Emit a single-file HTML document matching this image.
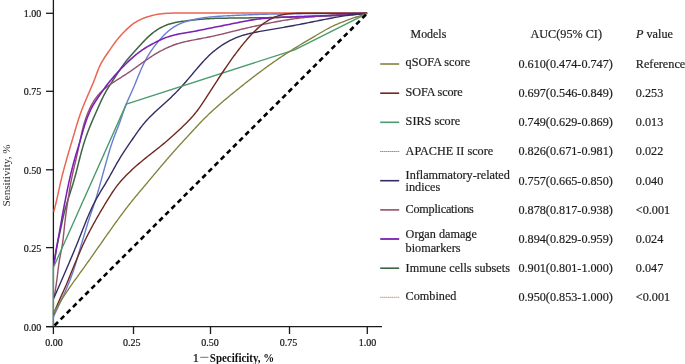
<!DOCTYPE html>
<html><head><meta charset="utf-8"><style>
html,body{margin:0;padding:0;background:#fff;}
body{width:685px;height:364px;overflow:hidden;font-family:"Liberation Serif", serif;}
svg{display:block;}
text{font-variant-ligatures:none;font-feature-settings:"liga" 0;}
.lg text{stroke:#1e1e1e;stroke-width:0.2px;}
.tk{stroke:#111;stroke-width:0.18px;}
svg{will-change:transform;}
</style></head><body>
<svg width="685" height="364" viewBox="0 0 685 364">
<defs><filter id="sb" x="-5%" y="-20%" width="110%" height="140%"><feGaussianBlur stdDeviation="0.35"/></filter></defs>
<rect width="685" height="364" fill="#fff"/>
<line x1="53.4" y1="0" x2="53.4" y2="327.2" stroke="#1a1a1a" stroke-width="1.3"/>
<line x1="46" y1="326.6" x2="382" y2="326.6" stroke="#1a1a1a" stroke-width="1.3"/>
<path d="M53.80,211.70 L54.17,210.25 L54.54,208.79 L54.90,207.34 L55.26,205.88 L55.62,204.42 L55.98,202.97 L56.33,201.51 L56.67,200.05 L57.01,198.59 L57.35,197.13 L57.67,195.66 L58.00,194.20 L58.32,192.73 L58.64,191.27 L58.96,189.80 L59.27,188.33 L59.59,186.87 L59.91,185.40 L60.24,183.94 L60.57,182.48 L60.91,181.02 L61.25,179.56 L61.60,178.10 L61.96,176.64 L62.32,175.19 L62.70,173.73 L63.08,172.28 L63.46,170.83 L63.85,169.38 L64.24,167.94 L64.64,166.49 L65.04,165.04 L65.44,163.60 L65.84,162.15 L66.25,160.71 L66.66,159.27 L67.07,157.82 L67.48,156.38 L67.89,154.94 L68.31,153.50 L68.73,152.06 L69.15,150.62 L69.57,149.18 L69.99,147.74 L70.42,146.30 L70.85,144.86 L71.28,143.43 L71.70,141.99 L72.13,140.55 L72.56,139.11 L72.99,137.67 L73.41,136.24 L73.83,134.80 L74.26,133.36 L74.68,131.92 L75.10,130.48 L75.52,129.04 L75.95,127.60 L76.38,126.16 L76.81,124.73 L77.25,123.29 L77.69,121.86 L78.14,120.43 L78.60,119.00 L79.07,117.58 L79.54,116.15 L80.03,114.73 L80.53,113.32 L81.04,111.91 L81.56,110.50 L82.09,109.10 L82.64,107.71 L83.20,106.31 L83.77,104.93 L84.34,103.54 L84.92,102.16 L85.50,100.78 L86.09,99.39 L86.68,98.01 L87.27,96.63 L87.85,95.26 L88.45,93.88 L89.04,92.50 L89.63,91.12 L90.23,89.75 L90.83,88.37 L91.43,87.00 L92.02,85.62 L92.61,84.24 L93.19,82.86 L93.76,81.47 L94.31,80.07 L94.85,78.67 L95.38,77.27 L95.89,75.86 L96.40,74.45 L96.91,73.04 L97.42,71.63 L97.96,70.23 L98.52,68.84 L99.10,67.46 L99.73,66.10 L100.38,64.76 L101.07,63.43 L101.80,62.12 L102.55,60.82 L103.33,59.54 L104.12,58.27 L104.94,57.01 L105.77,55.76 L106.61,54.52 L107.45,53.28 L108.30,52.04 L109.15,50.81 L110.00,49.57 L110.85,48.34 L111.71,47.11 L112.57,45.88 L113.44,44.66 L114.32,43.45 L115.22,42.24 L116.12,41.05 L117.04,39.86 L117.98,38.69 L118.94,37.54 L119.91,36.40 L120.90,35.27 L121.91,34.17 L122.94,33.08 L123.99,32.00 L125.04,30.94 L126.12,29.89 L127.20,28.85 L128.29,27.83 L129.41,26.83 L130.54,25.84 L131.69,24.89 L132.87,23.98 L134.09,23.12 L135.34,22.30 L136.62,21.53 L137.93,20.81 L139.27,20.13 L140.62,19.49 L141.99,18.89 L143.38,18.32 L144.77,17.79 L146.19,17.29 L147.61,16.81 L149.04,16.37 L150.48,15.95 L151.92,15.56 L153.38,15.20 L154.84,14.87 L156.31,14.58 L157.78,14.33 L159.27,14.11 L160.75,13.91 L162.24,13.75 L163.73,13.60 L165.23,13.48 L166.72,13.37 L168.22,13.28 L169.72,13.21 L171.22,13.15 L172.72,13.10 L174.21,13.07 L175.71,13.04 L177.21,13.01 L178.71,12.99 L180.21,12.97 L181.71,12.95 L183.21,12.94 L184.71,12.93 L186.21,12.92 L187.71,12.91 L189.21,12.91 L190.71,12.90 L192.21,12.90 L193.71,12.90 L195.21,12.90 L196.71,12.90 L198.21,12.90 L199.71,12.90 L201.21,12.90 L202.71,12.90 L204.21,12.90 L205.71,12.90 L207.21,12.90 L208.71,12.90 L210.21,12.90 L211.71,12.90 L213.21,12.90 L214.71,12.90 L216.21,12.90 L217.71,12.90 L219.21,12.90 L220.71,12.90 L222.21,12.90 L223.71,12.90 L225.21,12.90 L226.71,12.90 L228.21,12.90 L229.71,12.90 L231.21,12.90 L232.71,12.90 L234.21,12.90 L235.71,12.90 L237.21,12.90 L238.71,12.90 L240.21,12.90 L241.71,12.90 L243.21,12.90 L244.71,12.90 L246.21,12.90 L247.71,12.90 L249.21,12.90 L250.71,12.90 L252.21,12.90 L253.71,12.90 L255.21,12.90 L256.71,12.90 L258.21,12.90 L259.71,12.90 L261.21,12.90 L262.71,12.90 L264.21,12.90 L265.71,12.90 L267.21,12.90 L268.71,12.90 L270.21,12.90 L271.71,12.90 L273.21,12.90 L274.71,12.90 L276.21,12.90 L277.71,12.90 L279.21,12.90 L280.71,12.90 L282.21,12.90 L283.71,12.90 L285.21,12.90 L286.71,12.90 L288.21,12.90 L289.71,12.90 L291.21,12.90 L292.71,12.90 L294.21,12.90 L295.71,12.90 L297.21,12.90 L298.71,12.90 L300.21,12.90 L301.71,12.90 L303.21,12.90 L304.71,12.90 L306.21,12.90 L307.71,12.90 L309.21,12.90 L310.71,12.90 L312.21,12.90 L313.71,12.90 L315.21,12.90 L316.71,12.90 L318.21,12.90 L319.71,12.90 L321.21,12.90 L322.71,12.90 L324.21,12.90 L325.71,12.90 L327.21,12.90 L328.71,12.90 L330.21,12.90 L331.71,12.90 L333.21,12.90 L334.71,12.90 L336.21,12.90 L337.71,12.90 L339.21,12.90 L340.71,12.90 L342.21,12.90 L343.71,12.90 L345.21,12.90 L346.71,12.90 L348.21,12.90 L349.71,12.90 L351.21,12.90 L352.71,12.90 L354.21,12.90 L355.71,12.90 L357.21,12.90 L358.71,12.90 L360.21,12.90 L361.71,12.90 L363.21,12.90 L364.71,12.90 L366.21,12.90 L367.21,12.90" fill="none" stroke="#ea6653" stroke-width="1.5" stroke-linejoin="round"/>
<path d="M53.60,266.00 L53.85,264.52 L54.11,263.04 L54.36,261.57 L54.62,260.09 L54.87,258.61 L55.12,257.13 L55.37,255.65 L55.62,254.17 L55.87,252.69 L56.13,251.21 L56.38,249.74 L56.64,248.26 L56.91,246.79 L57.18,245.31 L57.47,243.84 L57.76,242.37 L58.05,240.90 L58.36,239.43 L58.67,237.96 L58.99,236.50 L59.31,235.03 L59.63,233.57 L59.96,232.10 L60.28,230.64 L60.61,229.18 L60.93,227.71 L61.24,226.25 L61.56,224.78 L61.87,223.31 L62.18,221.85 L62.49,220.38 L62.81,218.91 L63.13,217.45 L63.46,215.99 L63.81,214.53 L64.16,213.07 L64.52,211.62 L64.90,210.17 L65.29,208.72 L65.69,207.28 L66.10,205.84 L66.52,204.40 L66.95,202.96 L67.38,201.52 L67.82,200.09 L68.26,198.66 L68.71,197.23 L69.17,195.80 L69.62,194.37 L70.08,192.94 L70.54,191.51 L70.99,190.08 L71.45,188.65 L71.90,187.22 L72.35,185.79 L72.80,184.36 L73.23,182.93 L73.66,181.49 L74.08,180.05 L74.50,178.61 L74.90,177.17 L75.30,175.72 L75.69,174.27 L76.07,172.82 L76.44,171.37 L76.81,169.92 L77.18,168.46 L77.54,167.01 L77.90,165.55 L78.26,164.09 L78.63,162.64 L78.99,161.18 L79.36,159.73 L79.73,158.28 L80.11,156.82 L80.49,155.37 L80.87,153.92 L81.26,152.48 L81.65,151.03 L82.06,149.58 L82.47,148.14 L82.88,146.70 L83.31,145.26 L83.74,143.83 L84.19,142.40 L84.64,140.97 L85.11,139.55 L85.59,138.13 L86.08,136.71 L86.58,135.30 L87.10,133.89 L87.62,132.48 L88.15,131.08 L88.70,129.68 L89.25,128.29 L89.80,126.90 L90.37,125.51 L90.94,124.12 L91.51,122.74 L92.10,121.36 L92.69,119.98 L93.28,118.60 L93.88,117.22 L94.48,115.85 L95.08,114.48 L95.69,113.10 L96.30,111.73 L96.91,110.36 L97.52,108.99 L98.13,107.62 L98.73,106.25 L99.34,104.88 L99.96,103.52 L100.58,102.15 L101.20,100.79 L101.84,99.44 L102.49,98.09 L103.15,96.75 L103.83,95.42 L104.53,94.10 L105.25,92.79 L105.99,91.48 L106.74,90.19 L107.51,88.90 L108.29,87.62 L109.08,86.35 L109.87,85.08 L110.67,83.81 L111.48,82.55 L112.29,81.29 L113.11,80.03 L113.93,78.77 L114.75,77.52 L115.57,76.26 L116.40,75.01 L117.22,73.76 L118.05,72.51 L118.88,71.26 L119.72,70.02 L120.56,68.78 L121.41,67.54 L122.26,66.31 L123.13,65.09 L124.01,63.88 L124.91,62.68 L125.82,61.50 L126.75,60.33 L127.70,59.17 L128.66,58.02 L129.63,56.89 L130.62,55.76 L131.61,54.64 L132.62,53.52 L133.62,52.41 L134.63,51.30 L135.64,50.20 L136.65,49.09 L137.66,47.98 L138.67,46.87 L139.68,45.76 L140.69,44.65 L141.70,43.55 L142.72,42.45 L143.75,41.36 L144.78,40.28 L145.83,39.21 L146.89,38.15 L147.97,37.12 L149.06,36.10 L150.18,35.11 L151.31,34.14 L152.46,33.19 L153.64,32.28 L154.84,31.39 L156.06,30.54 L157.30,29.72 L158.56,28.94 L159.85,28.19 L161.15,27.49 L162.48,26.82 L163.83,26.19 L165.19,25.60 L166.57,25.05 L167.97,24.55 L169.38,24.08 L170.80,23.66 L172.24,23.27 L173.69,22.92 L175.14,22.60 L176.61,22.31 L178.08,22.04 L179.55,21.79 L181.03,21.57 L182.52,21.35 L184.00,21.15 L185.49,20.96 L186.97,20.77 L188.46,20.58 L189.95,20.41 L191.44,20.23 L192.93,20.06 L194.42,19.89 L195.91,19.73 L197.40,19.58 L198.90,19.43 L200.39,19.29 L201.88,19.15 L203.38,19.03 L204.87,18.92 L206.37,18.81 L207.86,18.71 L209.36,18.63 L210.86,18.55 L212.36,18.48 L213.85,18.42 L215.35,18.37 L216.85,18.32 L218.35,18.28 L219.85,18.25 L221.35,18.22 L222.85,18.19 L224.35,18.17 L225.85,18.15 L227.35,18.13 L228.85,18.11 L230.35,18.09 L231.85,18.08 L233.35,18.06 L234.85,18.05 L236.35,18.03 L237.85,18.01 L239.35,18.00 L240.85,17.98 L242.35,17.96 L243.85,17.95 L245.35,17.93 L246.85,17.91 L248.35,17.89 L249.85,17.87 L251.35,17.86 L252.85,17.84 L254.35,17.82 L255.85,17.80 L257.35,17.78 L258.85,17.76 L260.35,17.74 L261.85,17.72 L263.35,17.70 L264.85,17.67 L266.35,17.65 L267.85,17.63 L269.35,17.60 L270.85,17.57 L272.34,17.55 L273.84,17.52 L275.34,17.49 L276.84,17.46 L278.34,17.43 L279.84,17.40 L281.34,17.37 L282.84,17.33 L284.34,17.30 L285.84,17.26 L287.34,17.22 L288.84,17.19 L290.34,17.15 L291.84,17.11 L293.34,17.07 L294.84,17.03 L296.34,16.98 L297.84,16.94 L299.34,16.90 L300.84,16.85 L302.34,16.81 L303.83,16.76 L305.33,16.71 L306.83,16.66 L308.33,16.61 L309.83,16.56 L311.33,16.51 L312.83,16.45 L314.33,16.40 L315.83,16.34 L317.33,16.29 L318.82,16.23 L320.32,16.17 L321.82,16.11 L323.32,16.04 L324.82,15.98 L326.32,15.91 L327.82,15.84 L329.31,15.77 L330.81,15.69 L332.31,15.61 L333.81,15.54 L335.31,15.45 L336.80,15.37 L338.30,15.29 L339.80,15.20 L341.30,15.11 L342.79,15.02 L344.29,14.93 L345.79,14.83 L347.28,14.73 L348.78,14.64 L350.28,14.54 L351.77,14.43 L353.27,14.33 L354.77,14.22 L356.26,14.12 L357.76,14.01 L359.26,13.90 L360.75,13.79 L362.25,13.68 L363.74,13.57 L365.24,13.46 L366.73,13.34 L367.23,13.31" fill="none" stroke="#3e6544" stroke-width="1.5" stroke-linejoin="round"/>
<path d="M53.40,317.00 L54.03,315.64 L54.66,314.28 L55.29,312.92 L55.93,311.56 L56.56,310.20 L57.20,308.84 L57.84,307.49 L58.48,306.13 L59.12,304.77 L59.76,303.42 L60.40,302.06 L61.04,300.71 L61.68,299.35 L62.32,297.99 L62.95,296.63 L63.57,295.26 L64.19,293.90 L64.80,292.53 L65.40,291.16 L66.00,289.78 L66.59,288.40 L67.17,287.02 L67.75,285.64 L68.32,284.25 L68.88,282.86 L69.43,281.46 L69.98,280.07 L70.52,278.67 L71.05,277.27 L71.57,275.86 L72.08,274.45 L72.59,273.04 L73.08,271.62 L73.57,270.21 L74.04,268.78 L74.51,267.36 L74.97,265.93 L75.42,264.50 L75.86,263.07 L76.29,261.63 L76.72,260.19 L77.14,258.76 L77.56,257.32 L77.97,255.87 L78.39,254.43 L78.81,252.99 L79.23,251.55 L79.65,250.12 L80.08,248.68 L80.51,247.24 L80.94,245.81 L81.38,244.37 L81.82,242.94 L82.26,241.50 L82.70,240.07 L83.13,238.63 L83.57,237.20 L84.00,235.76 L84.43,234.32 L84.85,232.89 L85.28,231.45 L85.70,230.01 L86.13,228.57 L86.55,227.13 L86.99,225.70 L87.42,224.26 L87.87,222.83 L88.32,221.40 L88.77,219.97 L89.24,218.55 L89.71,217.12 L90.19,215.70 L90.67,214.28 L91.16,212.86 L91.65,211.45 L92.14,210.03 L92.63,208.61 L93.11,207.19 L93.59,205.77 L94.07,204.35 L94.54,202.93 L95.01,201.50 L95.46,200.07 L95.91,198.64 L96.35,197.21 L96.79,195.77 L97.21,194.34 L97.64,192.90 L98.05,191.46 L98.46,190.01 L98.87,188.57 L99.28,187.13 L99.68,185.68 L100.08,184.24 L100.48,182.79 L100.88,181.34 L101.28,179.90 L101.68,178.45 L102.08,177.01 L102.47,175.56 L102.87,174.11 L103.27,172.67 L103.67,171.22 L104.07,169.78 L104.47,168.33 L104.87,166.89 L105.28,165.44 L105.68,164.00 L106.09,162.55 L106.49,161.11 L106.90,159.67 L107.31,158.22 L107.72,156.78 L108.14,155.34 L108.56,153.90 L108.98,152.46 L109.41,151.02 L109.84,149.59 L110.28,148.15 L110.73,146.72 L111.19,145.30 L111.66,143.87 L112.14,142.46 L112.64,141.04 L113.14,139.63 L113.66,138.22 L114.19,136.82 L114.72,135.42 L115.26,134.02 L115.81,132.63 L116.36,131.23 L116.91,129.84 L117.46,128.44 L118.00,127.04 L118.54,125.64 L119.07,124.24 L119.60,122.84 L120.11,121.43 L120.61,120.02 L121.11,118.60 L121.59,117.19 L122.07,115.77 L122.55,114.35 L123.03,112.92 L123.50,111.51 L123.99,110.09 L124.49,108.68 L125.00,107.27 L125.53,105.88 L126.08,104.48 L126.64,103.10 L127.23,101.72 L127.83,100.35 L128.44,98.98 L129.05,97.62 L129.67,96.26 L130.30,94.89 L130.91,93.53 L131.53,92.16 L132.14,90.79 L132.74,89.42 L133.33,88.04 L133.92,86.66 L134.50,85.28 L135.08,83.90 L135.65,82.51 L136.22,81.12 L136.79,79.73 L137.35,78.35 L137.92,76.96 L138.49,75.57 L139.06,74.18 L139.64,72.80 L140.23,71.42 L140.82,70.04 L141.42,68.67 L142.04,67.30 L142.66,65.94 L143.30,64.59 L143.96,63.24 L144.63,61.90 L145.32,60.57 L146.02,59.25 L146.75,57.94 L147.49,56.65 L148.25,55.36 L149.04,54.08 L149.84,52.82 L150.66,51.57 L151.50,50.33 L152.36,49.11 L153.24,47.89 L154.13,46.69 L155.04,45.50 L155.96,44.32 L156.89,43.15 L157.84,41.99 L158.80,40.85 L159.78,39.71 L160.77,38.59 L161.77,37.48 L162.79,36.38 L163.83,35.31 L164.88,34.25 L165.96,33.22 L167.06,32.21 L168.18,31.23 L169.32,30.28 L170.50,29.37 L171.69,28.49 L172.91,27.65 L174.16,26.85 L175.43,26.09 L176.73,25.37 L178.05,24.70 L179.39,24.07 L180.75,23.48 L182.13,22.93 L183.53,22.41 L184.94,21.93 L186.36,21.48 L187.79,21.06 L189.24,20.66 L190.68,20.28 L192.14,19.93 L193.59,19.59 L195.06,19.26 L196.52,18.96 L197.99,18.67 L199.47,18.41 L200.94,18.16 L202.42,17.92 L203.90,17.71 L205.39,17.51 L206.88,17.33 L208.36,17.16 L209.85,17.01 L211.35,16.86 L212.84,16.73 L214.33,16.60 L215.83,16.49 L217.32,16.38 L218.82,16.28 L220.32,16.18 L221.81,16.09 L223.31,16.00 L224.81,15.91 L226.31,15.83 L227.80,15.75 L229.30,15.68 L230.80,15.60 L232.30,15.53 L233.80,15.46 L235.30,15.39 L236.79,15.32 L238.29,15.25 L239.79,15.19 L241.29,15.12 L242.79,15.05 L244.29,14.99 L245.79,14.93 L247.28,14.86 L248.78,14.80 L250.28,14.74 L251.78,14.68 L253.28,14.62 L254.78,14.56 L256.28,14.51 L257.78,14.45 L259.28,14.40 L260.77,14.36 L262.27,14.31 L263.77,14.27 L265.27,14.23 L266.77,14.19 L268.27,14.16 L269.77,14.13 L271.27,14.10 L272.77,14.07 L274.27,14.05 L275.77,14.02 L277.27,14.00 L278.77,13.98 L280.27,13.95 L281.77,13.93 L283.27,13.91 L284.77,13.89 L286.27,13.87 L287.77,13.85 L289.27,13.83 L290.77,13.81 L292.27,13.80 L293.77,13.78 L295.27,13.76 L296.77,13.74 L298.27,13.72 L299.77,13.71 L301.27,13.69 L302.77,13.67 L304.27,13.66 L305.77,13.64 L307.27,13.63 L308.77,13.61 L310.27,13.60 L311.77,13.58 L313.27,13.57 L314.77,13.55 L316.27,13.54 L317.77,13.53 L319.27,13.51 L320.77,13.50 L322.27,13.49 L323.77,13.48 L325.27,13.47 L326.77,13.45 L328.27,13.44 L329.77,13.43 L331.27,13.42 L332.77,13.41 L334.27,13.41 L335.77,13.40 L337.27,13.39 L338.77,13.38 L340.27,13.37 L341.77,13.37 L343.27,13.36 L344.77,13.35 L346.27,13.35 L347.77,13.34 L349.27,13.34 L350.77,13.33 L352.27,13.33 L353.77,13.32 L355.27,13.32 L356.77,13.31 L358.27,13.31 L359.77,13.31 L361.27,13.31 L362.77,13.31 L364.27,13.30 L365.77,13.30 L367.27,13.30 L367.27,13.30" fill="none" stroke="#6a7ed0" stroke-width="1.4" stroke-linejoin="round"/>
<path d="M53.80,298.20 L54.09,296.73 L54.38,295.26 L54.67,293.79 L54.94,292.32 L55.21,290.85 L55.47,289.37 L55.72,287.90 L55.95,286.42 L56.18,284.94 L56.39,283.46 L56.60,281.97 L56.79,280.49 L56.98,279.00 L57.17,277.51 L57.35,276.02 L57.52,274.54 L57.70,273.05 L57.88,271.56 L58.06,270.07 L58.24,268.59 L58.43,267.10 L58.63,265.62 L58.84,264.14 L59.07,262.66 L59.30,261.18 L59.54,259.71 L59.80,258.24 L60.07,256.77 L60.34,255.31 L60.63,253.85 L60.91,252.38 L61.19,250.92 L61.47,249.46 L61.74,247.99 L62.00,246.53 L62.25,245.06 L62.48,243.58 L62.70,242.11 L62.90,240.63 L63.09,239.15 L63.27,237.66 L63.44,236.18 L63.60,234.69 L63.76,233.20 L63.91,231.71 L64.07,230.22 L64.22,228.73 L64.37,227.24 L64.53,225.75 L64.69,224.26 L64.86,222.77 L65.03,221.28 L65.21,219.79 L65.39,218.30 L65.58,216.81 L65.77,215.32 L65.97,213.84 L66.17,212.35 L66.38,210.87 L66.59,209.38 L66.80,207.90 L67.02,206.41 L67.24,204.93 L67.46,203.45 L67.69,201.96 L67.91,200.48 L68.14,199.00 L68.37,197.52 L68.60,196.03 L68.83,194.55 L69.06,193.07 L69.30,191.59 L69.54,190.11 L69.78,188.63 L70.03,187.15 L70.29,185.67 L70.55,184.20 L70.81,182.72 L71.09,181.25 L71.37,179.78 L71.67,178.31 L71.97,176.84 L72.28,175.37 L72.60,173.91 L72.92,172.44 L73.26,170.98 L73.60,169.52 L73.94,168.06 L74.28,166.60 L74.63,165.15 L74.98,163.69 L75.33,162.23 L75.67,160.77 L76.01,159.31 L76.35,157.85 L76.68,156.39 L77.01,154.92 L77.34,153.46 L77.66,151.99 L77.98,150.53 L78.30,149.06 L78.61,147.59 L78.92,146.13 L79.22,144.66 L79.53,143.19 L79.83,141.72 L80.14,140.25 L80.45,138.79 L80.76,137.32 L81.07,135.85 L81.39,134.39 L81.72,132.93 L82.05,131.47 L82.40,130.01 L82.76,128.56 L83.13,127.11 L83.52,125.66 L83.92,124.22 L84.34,122.79 L84.78,121.36 L85.24,119.93 L85.71,118.52 L86.21,117.11 L86.73,115.71 L87.26,114.31 L87.82,112.92 L88.40,111.55 L88.99,110.18 L89.61,108.82 L90.26,107.48 L90.92,106.15 L91.61,104.83 L92.33,103.53 L93.08,102.24 L93.85,100.98 L94.66,99.74 L95.49,98.52 L96.36,97.33 L97.27,96.16 L98.20,95.02 L99.18,93.91 L100.18,92.84 L101.22,91.79 L102.29,90.77 L103.38,89.78 L104.51,88.81 L105.65,87.87 L106.82,86.96 L108.01,86.06 L109.22,85.19 L110.44,84.33 L111.67,83.48 L112.91,82.65 L114.16,81.83 L115.42,81.01 L116.68,80.20 L117.94,79.40 L119.21,78.60 L120.47,77.80 L121.74,76.99 L123.00,76.19 L124.26,75.38 L125.52,74.56 L126.77,73.74 L128.02,72.91 L129.26,72.08 L130.50,71.23 L131.74,70.38 L132.96,69.52 L134.19,68.66 L135.41,67.79 L136.63,66.91 L137.84,66.03 L139.05,65.15 L140.27,64.27 L141.48,63.39 L142.70,62.52 L143.92,61.64 L145.14,60.78 L146.37,59.92 L147.60,59.06 L148.84,58.22 L150.08,57.39 L151.33,56.57 L152.59,55.76 L153.86,54.96 L155.14,54.18 L156.42,53.41 L157.71,52.66 L159.02,51.92 L160.33,51.20 L161.65,50.50 L162.97,49.81 L164.31,49.14 L165.65,48.49 L167.01,47.85 L168.37,47.24 L169.74,46.65 L171.12,46.07 L172.50,45.52 L173.90,45.00 L175.30,44.50 L176.72,44.02 L178.14,43.57 L179.56,43.14 L181.00,42.74 L182.44,42.36 L183.89,42.00 L185.35,41.65 L186.80,41.33 L188.27,41.01 L189.73,40.71 L191.20,40.42 L192.67,40.13 L194.14,39.85 L195.62,39.57 L197.09,39.29 L198.56,39.01 L200.04,38.73 L201.51,38.45 L202.98,38.17 L204.45,37.88 L205.93,37.59 L207.40,37.30 L208.87,37.00 L210.33,36.70 L211.80,36.39 L213.27,36.07 L214.73,35.75 L216.20,35.42 L217.66,35.09 L219.12,34.75 L220.58,34.41 L222.04,34.06 L223.49,33.71 L224.95,33.35 L226.41,32.99 L227.86,32.63 L229.32,32.27 L230.77,31.90 L232.23,31.54 L233.68,31.18 L235.14,30.82 L236.60,30.46 L238.05,30.10 L239.51,29.74 L240.97,29.39 L242.43,29.04 L243.89,28.70 L245.35,28.36 L246.81,28.01 L248.27,27.68 L249.73,27.34 L251.19,27.01 L252.66,26.68 L254.12,26.35 L255.58,26.02 L257.05,25.70 L258.51,25.38 L259.98,25.06 L261.45,24.75 L262.91,24.43 L264.38,24.12 L265.85,23.81 L267.32,23.51 L268.79,23.21 L270.25,22.91 L271.73,22.61 L273.20,22.32 L274.67,22.04 L276.14,21.76 L277.62,21.48 L279.09,21.21 L280.57,20.94 L282.04,20.68 L283.52,20.43 L285.00,20.18 L286.48,19.94 L287.96,19.71 L289.44,19.48 L290.93,19.26 L292.41,19.05 L293.90,18.85 L295.38,18.65 L296.87,18.45 L298.36,18.27 L299.85,18.09 L301.34,17.91 L302.83,17.75 L304.32,17.58 L305.81,17.42 L307.30,17.27 L308.79,17.12 L310.28,16.97 L311.78,16.82 L313.27,16.68 L314.76,16.54 L316.26,16.41 L317.75,16.27 L319.25,16.14 L320.74,16.01 L322.23,15.88 L323.73,15.76 L325.22,15.64 L326.72,15.51 L328.21,15.39 L329.71,15.28 L331.21,15.16 L332.70,15.05 L334.20,14.94 L335.69,14.83 L337.19,14.72 L338.69,14.62 L340.18,14.52 L341.68,14.43 L343.18,14.34 L344.67,14.25 L346.17,14.17 L347.67,14.09 L349.17,14.01 L350.66,13.94 L352.16,13.87 L353.66,13.80 L355.16,13.73 L356.66,13.67 L358.16,13.62 L359.66,13.56 L361.15,13.51 L362.65,13.45 L364.15,13.40 L365.65,13.35 L367.15,13.30 L367.15,13.30" fill="none" stroke="#94506c" stroke-width="1.4" stroke-linejoin="round"/>
<path d="M53.60,265.50 L53.84,264.02 L54.08,262.54 L54.32,261.06 L54.56,259.58 L54.80,258.10 L55.04,256.62 L55.29,255.14 L55.53,253.66 L55.78,252.18 L56.03,250.70 L56.28,249.22 L56.54,247.74 L56.80,246.27 L57.06,244.79 L57.33,243.31 L57.60,241.84 L57.87,240.36 L58.15,238.89 L58.43,237.42 L58.71,235.94 L58.99,234.47 L59.27,232.99 L59.54,231.52 L59.81,230.04 L60.08,228.57 L60.34,227.09 L60.61,225.62 L60.86,224.14 L61.12,222.66 L61.38,221.18 L61.63,219.70 L61.89,218.23 L62.15,216.75 L62.41,215.27 L62.67,213.80 L62.94,212.32 L63.21,210.85 L63.49,209.37 L63.77,207.90 L64.05,206.42 L64.33,204.95 L64.62,203.48 L64.91,202.01 L65.20,200.54 L65.49,199.06 L65.78,197.59 L66.07,196.12 L66.36,194.65 L66.66,193.18 L66.95,191.71 L67.25,190.24 L67.55,188.77 L67.85,187.30 L68.16,185.83 L68.47,184.36 L68.78,182.90 L69.10,181.43 L69.42,179.97 L69.75,178.50 L70.08,177.04 L70.42,175.58 L70.76,174.12 L71.11,172.66 L71.46,171.20 L71.82,169.75 L72.18,168.29 L72.55,166.84 L72.93,165.39 L73.31,163.94 L73.70,162.49 L74.10,161.04 L74.51,159.60 L74.92,158.16 L75.33,156.72 L75.76,155.28 L76.19,153.84 L76.62,152.41 L77.06,150.97 L77.50,149.54 L77.95,148.10 L78.39,146.67 L78.82,145.24 L79.26,143.80 L79.69,142.36 L80.11,140.93 L80.53,139.49 L80.94,138.04 L81.34,136.60 L81.75,135.16 L82.15,133.71 L82.56,132.27 L82.97,130.83 L83.38,129.39 L83.81,127.95 L84.25,126.52 L84.69,125.09 L85.16,123.66 L85.64,122.24 L86.13,120.83 L86.64,119.42 L87.16,118.02 L87.70,116.62 L88.26,115.23 L88.84,113.85 L89.43,112.48 L90.05,111.12 L90.68,109.77 L91.35,108.43 L92.04,107.11 L92.75,105.80 L93.50,104.51 L94.27,103.23 L95.06,101.97 L95.87,100.72 L96.70,99.48 L97.55,98.24 L98.39,97.01 L99.25,95.78 L100.10,94.55 L100.95,93.32 L101.80,92.09 L102.65,90.87 L103.50,89.64 L104.36,88.43 L105.23,87.22 L106.11,86.02 L107.01,84.83 L107.92,83.65 L108.85,82.48 L109.78,81.32 L110.73,80.17 L111.69,79.03 L112.65,77.89 L113.63,76.75 L114.61,75.63 L115.61,74.51 L116.61,73.40 L117.62,72.29 L118.64,71.20 L119.67,70.11 L120.72,69.03 L121.76,67.96 L122.82,66.90 L123.88,65.84 L124.94,64.78 L126.02,63.73 L127.09,62.69 L128.17,61.65 L129.26,60.62 L130.36,59.60 L131.46,58.58 L132.57,57.58 L133.70,56.60 L134.84,55.62 L135.99,54.67 L137.15,53.73 L138.33,52.81 L139.53,51.91 L140.74,51.03 L141.96,50.17 L143.20,49.34 L144.45,48.52 L145.72,47.73 L147.00,46.95 L148.29,46.20 L149.59,45.46 L150.90,44.73 L152.22,44.02 L153.54,43.33 L154.87,42.64 L156.21,41.96 L157.55,41.29 L158.89,40.63 L160.24,39.99 L161.59,39.36 L162.96,38.76 L164.33,38.18 L165.72,37.64 L167.12,37.12 L168.52,36.64 L169.94,36.19 L171.37,35.77 L172.82,35.38 L174.26,35.02 L175.72,34.68 L177.18,34.37 L178.65,34.07 L180.12,33.79 L181.59,33.53 L183.07,33.27 L184.55,33.01 L186.03,32.76 L187.50,32.51 L188.98,32.26 L190.46,32.00 L191.93,31.73 L193.41,31.46 L194.88,31.19 L196.36,30.90 L197.83,30.62 L199.30,30.33 L200.77,30.03 L202.24,29.74 L203.71,29.44 L205.18,29.14 L206.65,28.84 L208.12,28.54 L209.59,28.25 L211.06,27.95 L212.53,27.66 L214.00,27.36 L215.47,27.07 L216.95,26.78 L218.42,26.49 L219.89,26.20 L221.36,25.91 L222.83,25.62 L224.30,25.33 L225.78,25.04 L227.25,24.75 L228.72,24.45 L230.19,24.16 L231.66,23.86 L233.13,23.57 L234.60,23.27 L236.07,22.97 L237.54,22.67 L239.01,22.37 L240.48,22.07 L241.95,21.77 L243.42,21.48 L244.89,21.19 L246.36,20.91 L247.84,20.64 L249.31,20.38 L250.79,20.13 L252.27,19.89 L253.75,19.66 L255.24,19.44 L256.72,19.24 L258.21,19.05 L259.70,18.86 L261.18,18.69 L262.68,18.53 L264.17,18.38 L265.66,18.24 L267.15,18.11 L268.65,17.99 L270.14,17.88 L271.64,17.78 L273.14,17.68 L274.63,17.59 L276.13,17.50 L277.63,17.42 L279.13,17.34 L280.62,17.27 L282.12,17.20 L283.62,17.14 L285.12,17.08 L286.62,17.01 L288.12,16.96 L289.62,16.90 L291.11,16.84 L292.61,16.79 L294.11,16.74 L295.61,16.69 L297.11,16.63 L298.61,16.58 L300.11,16.53 L301.61,16.48 L303.11,16.43 L304.61,16.38 L306.11,16.33 L307.60,16.28 L309.10,16.24 L310.60,16.19 L312.10,16.14 L313.60,16.09 L315.10,16.05 L316.60,16.00 L318.10,15.96 L319.60,15.91 L321.10,15.87 L322.60,15.83 L324.10,15.78 L325.60,15.74 L327.10,15.70 L328.59,15.66 L330.09,15.61 L331.59,15.57 L333.09,15.53 L334.59,15.48 L336.09,15.43 L337.59,15.38 L339.09,15.33 L340.59,15.27 L342.09,15.21 L343.59,15.15 L345.08,15.08 L346.58,15.00 L348.08,14.92 L349.58,14.84 L351.07,14.74 L352.57,14.64 L354.06,14.53 L355.56,14.42 L357.05,14.29 L358.55,14.16 L360.04,14.03 L361.53,13.88 L363.03,13.74 L364.52,13.59 L366.01,13.44 L367.01,13.33" fill="none" stroke="#7a20b4" stroke-width="1.55" stroke-linejoin="round"/>
<path d="M53.80,298.20 L54.40,296.83 L55.00,295.45 L55.60,294.08 L56.20,292.70 L56.80,291.33 L57.40,289.95 L58.00,288.58 L58.60,287.20 L59.20,285.83 L59.80,284.45 L60.40,283.08 L60.99,281.70 L61.59,280.32 L62.19,278.95 L62.78,277.57 L63.38,276.19 L63.97,274.82 L64.57,273.44 L65.16,272.06 L65.75,270.68 L66.35,269.31 L66.94,267.93 L67.53,266.55 L68.12,265.17 L68.71,263.79 L69.30,262.41 L69.89,261.03 L70.48,259.65 L71.06,258.27 L71.65,256.89 L72.23,255.51 L72.81,254.13 L73.39,252.74 L73.97,251.36 L74.55,249.98 L75.12,248.59 L75.69,247.20 L76.26,245.81 L76.82,244.42 L77.39,243.03 L77.95,241.64 L78.50,240.25 L79.06,238.86 L79.61,237.46 L80.16,236.07 L80.71,234.67 L81.26,233.28 L81.81,231.88 L82.36,230.48 L82.91,229.09 L83.46,227.69 L84.01,226.30 L84.57,224.90 L85.12,223.51 L85.68,222.12 L86.25,220.73 L86.82,219.34 L87.39,217.96 L87.97,216.58 L88.55,215.20 L89.15,213.82 L89.75,212.44 L90.36,211.08 L90.97,209.71 L91.60,208.35 L92.24,206.99 L92.89,205.64 L93.55,204.30 L94.22,202.96 L94.91,201.63 L95.60,200.31 L96.31,198.99 L97.04,197.68 L97.77,196.37 L98.52,195.07 L99.27,193.78 L100.04,192.49 L100.81,191.21 L101.58,189.92 L102.36,188.64 L103.14,187.36 L103.92,186.08 L104.69,184.80 L105.47,183.52 L106.23,182.23 L107.00,180.94 L107.75,179.64 L108.50,178.34 L109.24,177.04 L109.98,175.74 L110.71,174.43 L111.43,173.11 L112.15,171.80 L112.88,170.49 L113.60,169.17 L114.32,167.86 L115.05,166.55 L115.78,165.24 L116.52,163.94 L117.26,162.64 L118.02,161.34 L118.78,160.05 L119.55,158.77 L120.34,157.49 L121.13,156.22 L121.93,154.95 L122.74,153.69 L123.55,152.43 L124.37,151.18 L125.20,149.93 L126.04,148.68 L126.87,147.44 L127.71,146.20 L128.55,144.96 L129.39,143.71 L130.24,142.47 L131.08,141.23 L131.93,140.00 L132.77,138.76 L133.62,137.52 L134.47,136.29 L135.32,135.05 L136.18,133.82 L137.04,132.60 L137.91,131.38 L138.79,130.16 L139.68,128.96 L140.57,127.76 L141.48,126.57 L142.41,125.40 L143.35,124.24 L144.30,123.09 L145.27,121.95 L146.26,120.83 L147.26,119.72 L148.28,118.63 L149.32,117.55 L150.36,116.49 L151.43,115.44 L152.50,114.40 L153.59,113.37 L154.68,112.34 L155.78,111.33 L156.89,110.32 L158.00,109.31 L159.12,108.31 L160.23,107.31 L161.35,106.31 L162.46,105.31 L163.58,104.30 L164.69,103.30 L165.80,102.29 L166.90,101.27 L168.00,100.25 L169.09,99.23 L170.18,98.20 L171.26,97.16 L172.34,96.11 L173.41,95.06 L174.47,94.01 L175.53,92.94 L176.57,91.87 L177.62,90.79 L178.65,89.71 L179.68,88.62 L180.70,87.52 L181.71,86.41 L182.71,85.30 L183.71,84.18 L184.71,83.06 L185.69,81.93 L186.67,80.80 L187.65,79.66 L188.62,78.52 L189.59,77.38 L190.56,76.23 L191.53,75.08 L192.49,73.94 L193.46,72.79 L194.42,71.64 L195.39,70.49 L196.36,69.35 L197.33,68.21 L198.30,67.07 L199.28,65.93 L200.27,64.80 L201.26,63.68 L202.26,62.56 L203.27,61.46 L204.28,60.36 L205.31,59.27 L206.35,58.20 L207.40,57.13 L208.47,56.09 L209.55,55.06 L210.64,54.04 L211.76,53.05 L212.88,52.07 L214.03,51.11 L215.19,50.17 L216.36,49.25 L217.55,48.34 L218.75,47.46 L219.97,46.60 L221.21,45.76 L222.45,44.94 L223.71,44.14 L224.99,43.36 L226.27,42.61 L227.57,41.87 L228.88,41.16 L230.20,40.47 L231.54,39.81 L232.89,39.17 L234.24,38.56 L235.61,37.98 L237.00,37.42 L238.39,36.88 L239.79,36.38 L241.20,35.90 L242.62,35.44 L244.05,35.01 L245.48,34.60 L246.93,34.21 L248.37,33.84 L249.83,33.49 L251.29,33.16 L252.75,32.84 L254.21,32.53 L255.68,32.23 L257.15,31.95 L258.63,31.67 L260.10,31.40 L261.58,31.13 L263.05,30.87 L264.53,30.62 L266.01,30.36 L267.49,30.11 L268.96,29.86 L270.44,29.61 L271.92,29.36 L273.40,29.10 L274.88,28.85 L276.36,28.60 L277.84,28.35 L279.32,28.09 L280.79,27.84 L282.27,27.58 L283.75,27.32 L285.23,27.06 L286.70,26.80 L288.18,26.54 L289.66,26.27 L291.13,26.00 L292.61,25.73 L294.08,25.46 L295.56,25.18 L297.03,24.90 L298.50,24.62 L299.98,24.34 L301.45,24.05 L302.92,23.77 L304.39,23.48 L305.86,23.19 L307.34,22.90 L308.81,22.61 L310.28,22.31 L311.75,22.02 L313.22,21.73 L314.69,21.43 L316.16,21.14 L317.63,20.85 L319.10,20.55 L320.58,20.26 L322.05,19.97 L323.52,19.68 L324.99,19.39 L326.46,19.09 L327.93,18.81 L329.40,18.52 L330.88,18.23 L332.35,17.95 L333.82,17.68 L335.30,17.40 L336.77,17.14 L338.25,16.87 L339.73,16.62 L341.21,16.37 L342.69,16.13 L344.17,15.90 L345.65,15.68 L347.13,15.47 L348.62,15.26 L350.10,15.06 L351.59,14.88 L353.08,14.70 L354.57,14.53 L356.06,14.36 L357.55,14.21 L359.04,14.06 L360.54,13.91 L362.03,13.77 L363.52,13.63 L365.02,13.50 L366.51,13.36 L367.01,13.32" fill="none" stroke="#332d63" stroke-width="1.4" stroke-linejoin="round"/>
<path d="M53.40,326.60 L53.40,267.50 L126.30,104.10 L294.60,49.80 L367.30,13.30" fill="none" stroke="#4a9a6e" stroke-width="1.35" stroke-linejoin="round"/>
<path d="M53.40,314.30 L53.97,312.91 L54.55,311.53 L55.12,310.14 L55.70,308.76 L56.28,307.38 L56.87,306.00 L57.46,304.62 L58.05,303.24 L58.65,301.87 L59.26,300.50 L59.86,299.12 L60.48,297.76 L61.09,296.39 L61.71,295.02 L62.33,293.66 L62.94,292.29 L63.56,290.92 L64.17,289.56 L64.78,288.19 L65.38,286.81 L65.98,285.44 L66.56,284.06 L67.15,282.68 L67.72,281.30 L68.29,279.91 L68.85,278.52 L69.41,277.13 L69.97,275.74 L70.52,274.35 L71.08,272.96 L71.64,271.56 L72.20,270.17 L72.76,268.79 L73.33,267.40 L73.90,266.01 L74.48,264.63 L75.06,263.24 L75.64,261.86 L76.22,260.48 L76.80,259.10 L77.39,257.72 L77.97,256.34 L78.56,254.96 L79.15,253.58 L79.74,252.20 L80.33,250.82 L80.93,249.44 L81.53,248.07 L82.14,246.70 L82.75,245.33 L83.37,243.97 L83.99,242.61 L84.63,241.25 L85.27,239.90 L85.93,238.55 L86.59,237.20 L87.26,235.86 L87.93,234.52 L88.62,233.19 L89.31,231.86 L90.01,230.53 L90.71,229.21 L91.42,227.88 L92.13,226.56 L92.84,225.25 L93.56,223.93 L94.29,222.62 L95.02,221.31 L95.75,220.00 L96.48,218.69 L97.22,217.39 L97.97,216.08 L98.72,214.78 L99.47,213.49 L100.23,212.19 L100.99,210.90 L101.75,209.61 L102.52,208.32 L103.29,207.04 L104.06,205.75 L104.83,204.46 L105.61,203.18 L106.39,201.90 L107.17,200.62 L107.95,199.34 L108.73,198.06 L109.52,196.79 L110.32,195.52 L111.12,194.26 L111.94,193.00 L112.76,191.75 L113.60,190.52 L114.45,189.29 L115.32,188.07 L116.20,186.87 L117.11,185.68 L118.03,184.51 L118.97,183.35 L119.92,182.20 L120.90,181.07 L121.89,179.95 L122.90,178.85 L123.91,177.75 L124.95,176.67 L125.99,175.60 L127.05,174.53 L128.11,173.48 L129.18,172.44 L130.27,171.40 L131.36,170.37 L132.45,169.35 L133.56,168.34 L134.67,167.33 L135.79,166.34 L136.91,165.35 L138.04,164.36 L139.18,163.38 L140.32,162.41 L141.47,161.45 L142.63,160.49 L143.78,159.54 L144.95,158.59 L146.11,157.65 L147.28,156.71 L148.46,155.78 L149.63,154.85 L150.81,153.93 L151.99,153.00 L153.18,152.08 L154.36,151.16 L155.54,150.23 L156.72,149.31 L157.90,148.38 L159.07,147.45 L160.24,146.51 L161.40,145.56 L162.56,144.61 L163.72,143.66 L164.86,142.69 L166.00,141.72 L167.14,140.75 L168.27,139.76 L169.40,138.77 L170.52,137.78 L171.64,136.78 L172.75,135.78 L173.86,134.77 L174.97,133.76 L176.08,132.75 L177.18,131.73 L178.29,130.72 L179.38,129.70 L180.48,128.67 L181.57,127.64 L182.66,126.61 L183.74,125.57 L184.81,124.53 L185.88,123.48 L186.94,122.42 L187.99,121.36 L189.03,120.28 L190.06,119.19 L191.08,118.09 L192.08,116.98 L193.06,115.86 L194.03,114.72 L194.99,113.57 L195.92,112.41 L196.85,111.23 L197.75,110.04 L198.64,108.84 L199.52,107.63 L200.39,106.41 L201.24,105.18 L202.08,103.94 L202.91,102.70 L203.74,101.45 L204.56,100.19 L205.37,98.93 L206.18,97.67 L206.99,96.41 L207.79,95.14 L208.60,93.88 L209.40,92.61 L210.21,91.35 L211.01,90.08 L211.82,88.82 L212.63,87.55 L213.44,86.29 L214.26,85.03 L215.07,83.77 L215.89,82.52 L216.71,81.26 L217.53,80.01 L218.35,78.75 L219.18,77.50 L220.01,76.25 L220.83,75.00 L221.66,73.75 L222.49,72.50 L223.33,71.25 L224.16,70.01 L225.00,68.76 L225.84,67.52 L226.68,66.28 L227.53,65.04 L228.38,63.80 L229.23,62.57 L230.09,61.34 L230.95,60.12 L231.82,58.89 L232.70,57.67 L233.58,56.46 L234.46,55.25 L235.35,54.04 L236.25,52.84 L237.15,51.65 L238.06,50.46 L238.98,49.27 L239.90,48.09 L240.83,46.91 L241.76,45.74 L242.70,44.57 L243.65,43.41 L244.61,42.25 L245.57,41.10 L246.54,39.96 L247.52,38.83 L248.50,37.70 L249.50,36.58 L250.51,35.48 L251.53,34.38 L252.56,33.30 L253.61,32.23 L254.67,31.18 L255.74,30.14 L256.83,29.12 L257.93,28.12 L259.05,27.13 L260.19,26.17 L261.35,25.23 L262.52,24.32 L263.71,23.43 L264.92,22.57 L266.15,21.74 L267.40,20.94 L268.66,20.17 L269.95,19.44 L271.25,18.75 L272.57,18.09 L273.91,17.49 L275.27,16.92 L276.64,16.40 L278.03,15.93 L279.43,15.50 L280.85,15.12 L282.28,14.79 L283.73,14.49 L285.18,14.24 L286.64,14.03 L288.11,13.86 L289.59,13.71 L291.07,13.59 L292.56,13.50 L294.05,13.42 L295.54,13.36 L297.04,13.32 L298.54,13.29 L300.03,13.26 L301.53,13.24 L303.03,13.23 L304.53,13.22 L306.03,13.21 L307.53,13.21 L309.03,13.21 L310.53,13.21 L312.03,13.20 L313.53,13.20 L315.03,13.20 L316.53,13.20 L318.03,13.21 L319.53,13.21 L321.03,13.21 L322.53,13.21 L324.03,13.21 L325.53,13.21 L327.03,13.21 L328.53,13.21 L330.03,13.21 L331.53,13.22 L333.03,13.22 L334.53,13.22 L336.03,13.22 L337.53,13.22 L339.03,13.23 L340.53,13.23 L342.03,13.23 L343.53,13.23 L345.03,13.24 L346.53,13.24 L348.03,13.24 L349.53,13.25 L351.03,13.25 L352.53,13.25 L354.03,13.26 L355.53,13.26 L357.03,13.27 L358.53,13.27 L360.03,13.28 L361.53,13.28 L363.03,13.29 L364.53,13.29 L366.03,13.30 L367.03,13.30" fill="none" stroke="#6e2a22" stroke-width="1.4" stroke-linejoin="round"/>
<path d="M53.40,313.50 L54.15,312.20 L54.90,310.90 L55.65,309.61 L56.41,308.31 L57.17,307.02 L57.93,305.72 L58.70,304.44 L59.47,303.15 L60.25,301.87 L61.03,300.59 L61.82,299.32 L62.62,298.05 L63.43,296.79 L64.24,295.53 L65.06,294.27 L65.89,293.02 L66.72,291.78 L67.56,290.53 L68.41,289.30 L69.26,288.06 L70.12,286.83 L70.98,285.60 L71.84,284.38 L72.71,283.16 L73.58,281.94 L74.46,280.72 L75.34,279.50 L76.22,278.29 L77.10,277.07 L77.98,275.86 L78.86,274.65 L79.74,273.43 L80.62,272.22 L81.50,271.00 L82.38,269.79 L83.26,268.57 L84.14,267.36 L85.01,266.14 L85.88,264.92 L86.75,263.69 L87.62,262.47 L88.49,261.25 L89.35,260.02 L90.22,258.80 L91.08,257.57 L91.94,256.34 L92.80,255.11 L93.66,253.88 L94.52,252.65 L95.38,251.42 L96.23,250.19 L97.09,248.96 L97.95,247.73 L98.81,246.50 L99.67,245.27 L100.53,244.04 L101.39,242.81 L102.25,241.58 L103.11,240.35 L103.97,239.13 L104.83,237.90 L105.69,236.67 L106.56,235.45 L107.43,234.22 L108.29,233.00 L109.16,231.78 L110.03,230.55 L110.90,229.33 L111.77,228.11 L112.64,226.89 L113.51,225.67 L114.39,224.45 L115.26,223.23 L116.14,222.01 L117.02,220.80 L117.90,219.58 L118.78,218.37 L119.66,217.16 L120.55,215.95 L121.44,214.74 L122.33,213.53 L123.23,212.33 L124.13,211.13 L125.03,209.94 L125.94,208.74 L126.85,207.55 L127.77,206.37 L128.69,205.19 L129.62,204.01 L130.56,202.84 L131.49,201.67 L132.44,200.50 L133.38,199.34 L134.34,198.18 L135.29,197.02 L136.25,195.87 L137.21,194.72 L138.17,193.57 L139.13,192.42 L140.10,191.27 L141.06,190.12 L142.03,188.97 L142.99,187.82 L143.95,186.67 L144.92,185.52 L145.88,184.37 L146.84,183.22 L147.80,182.07 L148.76,180.92 L149.73,179.77 L150.69,178.62 L151.65,177.47 L152.61,176.32 L153.58,175.17 L154.55,174.02 L155.51,172.87 L156.48,171.73 L157.45,170.58 L158.42,169.44 L159.39,168.30 L160.37,167.16 L161.34,166.01 L162.31,164.87 L163.29,163.73 L164.26,162.59 L165.24,161.45 L166.21,160.31 L167.19,159.17 L168.17,158.04 L169.14,156.90 L170.13,155.77 L171.11,154.63 L172.09,153.50 L173.08,152.37 L174.07,151.25 L175.07,150.13 L176.07,149.01 L177.07,147.89 L178.08,146.78 L179.08,145.67 L180.10,144.56 L181.11,143.46 L182.12,142.36 L183.14,141.25 L184.16,140.15 L185.18,139.05 L186.19,137.95 L187.21,136.84 L188.23,135.74 L189.24,134.64 L190.26,133.53 L191.27,132.43 L192.29,131.32 L193.30,130.22 L194.32,129.12 L195.34,128.02 L196.36,126.92 L197.38,125.82 L198.41,124.73 L199.44,123.64 L200.47,122.56 L201.51,121.48 L202.56,120.40 L203.61,119.34 L204.67,118.28 L205.74,117.22 L206.81,116.17 L207.88,115.13 L208.97,114.09 L210.05,113.06 L211.15,112.03 L212.25,111.01 L213.35,110.00 L214.46,108.98 L215.57,107.98 L216.68,106.98 L217.81,105.98 L218.93,104.99 L220.06,104.00 L221.19,103.02 L222.33,102.04 L223.47,101.06 L224.61,100.09 L225.75,99.13 L226.90,98.16 L228.05,97.20 L229.21,96.24 L230.36,95.29 L231.52,94.33 L232.68,93.38 L233.84,92.43 L235.01,91.49 L236.17,90.54 L237.34,89.60 L238.51,88.66 L239.68,87.72 L240.85,86.78 L242.02,85.85 L243.20,84.91 L244.37,83.98 L245.55,83.05 L246.73,82.13 L247.91,81.20 L249.09,80.28 L250.28,79.36 L251.46,78.44 L252.65,77.53 L253.84,76.62 L255.03,75.71 L256.23,74.80 L257.43,73.90 L258.62,72.99 L259.83,72.10 L261.03,71.20 L262.23,70.31 L263.44,69.42 L264.65,68.53 L265.86,67.65 L267.08,66.77 L268.29,65.89 L269.51,65.02 L270.74,64.15 L271.96,63.28 L273.19,62.42 L274.42,61.56 L275.65,60.70 L276.88,59.85 L278.12,59.00 L279.36,58.16 L280.60,57.32 L281.85,56.49 L283.10,55.66 L284.35,54.83 L285.60,54.01 L286.86,53.19 L288.12,52.38 L289.38,51.57 L290.65,50.77 L291.92,49.97 L293.19,49.17 L294.46,48.38 L295.74,47.59 L297.02,46.81 L298.30,46.03 L299.58,45.25 L300.87,44.47 L302.15,43.70 L303.44,42.94 L304.73,42.17 L306.02,41.40 L307.31,40.64 L308.60,39.88 L309.89,39.11 L311.18,38.35 L312.47,37.59 L313.76,36.82 L315.05,36.05 L316.34,35.29 L317.63,34.52 L318.92,33.76 L320.21,32.99 L321.50,32.23 L322.79,31.48 L324.09,30.73 L325.39,29.99 L326.70,29.27 L328.02,28.56 L329.34,27.86 L330.67,27.17 L332.01,26.51 L333.36,25.86 L334.71,25.23 L336.08,24.62 L337.45,24.03 L338.83,23.45 L340.21,22.88 L341.60,22.33 L343.00,21.79 L344.40,21.26 L345.81,20.74 L347.21,20.23 L348.62,19.72 L350.04,19.22 L351.45,18.72 L352.87,18.22 L354.28,17.73 L355.70,17.24 L357.12,16.75 L358.54,16.27 L359.96,15.78 L361.38,15.30 L362.80,14.82 L364.22,14.34 L365.64,13.86 L367.06,13.38 L367.06,13.38" fill="none" stroke="#83813e" stroke-width="1.35" stroke-linejoin="round"/>
<line x1="54.5" y1="325.5" x2="367.3" y2="13.3" stroke="#000" stroke-width="2.6" stroke-dasharray="5 3.7"/>
<line x1="46" y1="13.3" x2="53.4" y2="13.3" stroke="#1a1a1a" stroke-width="1.3"/>
<text x="41.2" y="17.3" text-anchor="end" class="tk" font-family='"Liberation Serif", serif' font-size="10" fill="#111">1.00</text>
<line x1="46" y1="91.3" x2="53.4" y2="91.3" stroke="#1a1a1a" stroke-width="1.3"/>
<text x="41.2" y="95.3" text-anchor="end" class="tk" font-family='"Liberation Serif", serif' font-size="10" fill="#111">0.75</text>
<line x1="46" y1="169.8" x2="53.4" y2="169.8" stroke="#1a1a1a" stroke-width="1.3"/>
<text x="41.2" y="173.8" text-anchor="end" class="tk" font-family='"Liberation Serif", serif' font-size="10" fill="#111">0.50</text>
<line x1="46" y1="247.6" x2="53.4" y2="247.6" stroke="#1a1a1a" stroke-width="1.3"/>
<text x="41.2" y="251.6" text-anchor="end" class="tk" font-family='"Liberation Serif", serif' font-size="10" fill="#111">0.25</text>
<line x1="46" y1="326.6" x2="53.4" y2="326.6" stroke="#1a1a1a" stroke-width="1.3"/>
<text x="41.2" y="330.6" text-anchor="end" class="tk" font-family='"Liberation Serif", serif' font-size="10" fill="#111">0.00</text>
<line x1="53.4" y1="326.6" x2="53.4" y2="334" stroke="#1a1a1a" stroke-width="1.3"/>
<text x="53.9" y="345.8" text-anchor="middle" class="tk" font-family='"Liberation Serif", serif' font-size="10" fill="#111">0.00</text>
<line x1="133.5" y1="326.6" x2="133.5" y2="334" stroke="#1a1a1a" stroke-width="1.3"/>
<text x="131.8" y="345.8" text-anchor="middle" class="tk" font-family='"Liberation Serif", serif' font-size="10" fill="#111">0.25</text>
<line x1="210.5" y1="326.6" x2="210.5" y2="334" stroke="#1a1a1a" stroke-width="1.3"/>
<text x="209.9" y="345.8" text-anchor="middle" class="tk" font-family='"Liberation Serif", serif' font-size="10" fill="#111">0.50</text>
<line x1="289.5" y1="326.6" x2="289.5" y2="334" stroke="#1a1a1a" stroke-width="1.3"/>
<text x="288.6" y="345.8" text-anchor="middle" class="tk" font-family='"Liberation Serif", serif' font-size="10" fill="#111">0.75</text>
<line x1="367.3" y1="326.6" x2="367.3" y2="334" stroke="#1a1a1a" stroke-width="1.3"/>
<text x="367.5" y="345.8" text-anchor="middle" class="tk" font-family='"Liberation Serif", serif' font-size="10" fill="#111">1.00</text>
<text transform="translate(9.6,206.6) rotate(-90)" font-family='"Liberation Serif", serif' font-size="11" textLength="62.3" lengthAdjust="spacingAndGlyphs" fill="#2a2a2a">Sensitivity, %</text>
<text x="192.8" y="361.6" font-family='"Liberation Serif", serif' font-size="12.4" fill="#000" stroke="#000" stroke-width="0.15">1</text>
<line x1="200.2" y1="357.3" x2="208.4" y2="357.3" stroke="#444" stroke-width="0.75"/>
<text x="209.8" y="361.6" font-family='"Liberation Serif", serif' font-size="11.5" font-weight="bold" textLength="64.5" lengthAdjust="spacingAndGlyphs" fill="#111">Specificity, %</text>
<g class="lg" filter="url(#sb)">
<text transform="translate(410.60,38.20) scale(1,1.060)" font-family='"Liberation Serif", serif' font-size="11.9" fill="#1e1e1e">Models</text>
<text transform="translate(530.50,38.30) scale(1,1.060)" font-family='"Liberation Serif", serif' font-size="12.2" fill="#1e1e1e">AUC(95% CI)</text>
<text transform="translate(636.0,38.4) scale(1,1.060)" font-family='"Liberation Serif", serif' font-size="12.2" fill="#1e1e1e"><tspan font-style="italic">P</tspan> value</text>
<line x1="380.2" y1="64.0" x2="399.2" y2="64.0" stroke="#83813e" stroke-width="1.6"/>
<text transform="translate(405.60,66.40) scale(1,1.060)" font-family='"Liberation Serif", serif' font-size="12.2" fill="#1e1e1e">qSOFA score</text>
<text transform="translate(518.40,67.70) scale(1,1.060)" font-family='"Liberation Serif", serif' font-size="12.2" fill="#1e1e1e">0.610(0.474-0.747)</text>
<text transform="translate(635.80,67.70) scale(1,1.060)" font-family='"Liberation Serif", serif' font-size="12.2" fill="#1e1e1e">Reference</text>
<line x1="380.2" y1="93.2" x2="399.2" y2="93.2" stroke="#6e2a22" stroke-width="1.6"/>
<text transform="translate(405.60,95.50) scale(1,1.060)" font-family='"Liberation Serif", serif' font-size="12.2" fill="#1e1e1e" letter-spacing="-0.14">SOFA score</text>
<text transform="translate(518.40,96.90) scale(1,1.060)" font-family='"Liberation Serif", serif' font-size="12.2" fill="#1e1e1e">0.697(0.546-0.849)</text>
<text transform="translate(635.80,96.90) scale(1,1.060)" font-family='"Liberation Serif", serif' font-size="12.2" fill="#1e1e1e">0.253</text>
<line x1="380.2" y1="122.3" x2="399.2" y2="122.3" stroke="#4a9a6e" stroke-width="1.6"/>
<text transform="translate(405.60,124.90) scale(1,1.060)" font-family='"Liberation Serif", serif' font-size="12.2" fill="#1e1e1e">SIRS score</text>
<text transform="translate(518.40,126.10) scale(1,1.060)" font-family='"Liberation Serif", serif' font-size="12.2" fill="#1e1e1e">0.749(0.629-0.869)</text>
<text transform="translate(635.80,126.10) scale(1,1.060)" font-family='"Liberation Serif", serif' font-size="12.2" fill="#1e1e1e">0.013</text>
<line x1="380.2" y1="151.5" x2="399.2" y2="151.5" stroke="#6673c6" stroke-width="1.2" stroke-dasharray="1.3 0.7"/>
<text transform="translate(405.60,154.80) scale(1,1.060)" font-family='"Liberation Serif", serif' font-size="12.2" fill="#1e1e1e">APACHE II score</text>
<text transform="translate(518.40,155.30) scale(1,1.060)" font-family='"Liberation Serif", serif' font-size="12.2" fill="#1e1e1e">0.826(0.671-0.981)</text>
<text transform="translate(635.80,155.30) scale(1,1.060)" font-family='"Liberation Serif", serif' font-size="12.2" fill="#1e1e1e">0.022</text>
<line x1="380.2" y1="180.7" x2="399.2" y2="180.7" stroke="#332d63" stroke-width="1.6"/>
<text transform="translate(405.60,178.90) scale(1,1.060)" font-family='"Liberation Serif", serif' font-size="12.2" fill="#1e1e1e">Inflammatory-related</text>
<text transform="translate(405.60,190.70) scale(1,1.060)" font-family='"Liberation Serif", serif' font-size="12.2" fill="#1e1e1e">indices</text>
<text transform="translate(518.40,184.50) scale(1,1.060)" font-family='"Liberation Serif", serif' font-size="12.2" fill="#1e1e1e">0.757(0.665-0.850)</text>
<text transform="translate(635.80,184.50) scale(1,1.060)" font-family='"Liberation Serif", serif' font-size="12.2" fill="#1e1e1e">0.040</text>
<line x1="380.2" y1="209.9" x2="399.2" y2="209.9" stroke="#94506c" stroke-width="1.6"/>
<text transform="translate(405.60,213.40) scale(1,1.060)" font-family='"Liberation Serif", serif' font-size="12.2" fill="#1e1e1e" letter-spacing="-0.24">Complications</text>
<text transform="translate(518.40,213.70) scale(1,1.060)" font-family='"Liberation Serif", serif' font-size="12.2" fill="#1e1e1e">0.878(0.817-0.938)</text>
<text transform="translate(635.80,213.70) scale(1,1.060)" font-family='"Liberation Serif", serif' font-size="12.2" fill="#1e1e1e">&lt;0.001</text>
<line x1="380.2" y1="239.0" x2="399.2" y2="239.0" stroke="#7a20b4" stroke-width="1.8"/>
<text transform="translate(405.60,237.60) scale(1,1.060)" font-family='"Liberation Serif", serif' font-size="12.2" fill="#1e1e1e">Organ damage</text>
<text transform="translate(405.60,252.00) scale(1,1.060)" font-family='"Liberation Serif", serif' font-size="12.2" fill="#1e1e1e">biomarkers</text>
<text transform="translate(518.40,242.90) scale(1,1.060)" font-family='"Liberation Serif", serif' font-size="12.2" fill="#1e1e1e">0.894(0.829-0.959)</text>
<text transform="translate(635.80,242.90) scale(1,1.060)" font-family='"Liberation Serif", serif' font-size="12.2" fill="#1e1e1e">0.024</text>
<line x1="380.2" y1="268.2" x2="399.2" y2="268.2" stroke="#3e6544" stroke-width="1.6"/>
<text transform="translate(405.60,271.80) scale(1,1.060)" font-family='"Liberation Serif", serif' font-size="12.2" fill="#1e1e1e">Immune cells subsets</text>
<text transform="translate(518.40,272.10) scale(1,1.060)" font-family='"Liberation Serif", serif' font-size="12.2" fill="#1e1e1e">0.901(0.801-1.000)</text>
<text transform="translate(635.80,272.10) scale(1,1.060)" font-family='"Liberation Serif", serif' font-size="12.2" fill="#1e1e1e">0.047</text>
<line x1="380.2" y1="297.4" x2="399.2" y2="297.4" stroke="#e38a80" stroke-width="1.1" stroke-dasharray="1.3 0.7"/>
<text transform="translate(405.60,300.20) scale(1,1.060)" font-family='"Liberation Serif", serif' font-size="12.2" fill="#1e1e1e">Combined</text>
<text transform="translate(518.40,301.30) scale(1,1.060)" font-family='"Liberation Serif", serif' font-size="12.2" fill="#1e1e1e">0.950(0.853-1.000)</text>
<text transform="translate(635.80,301.30) scale(1,1.060)" font-family='"Liberation Serif", serif' font-size="12.2" fill="#1e1e1e">&lt;0.001</text>
</g>
</svg>
</body></html>
